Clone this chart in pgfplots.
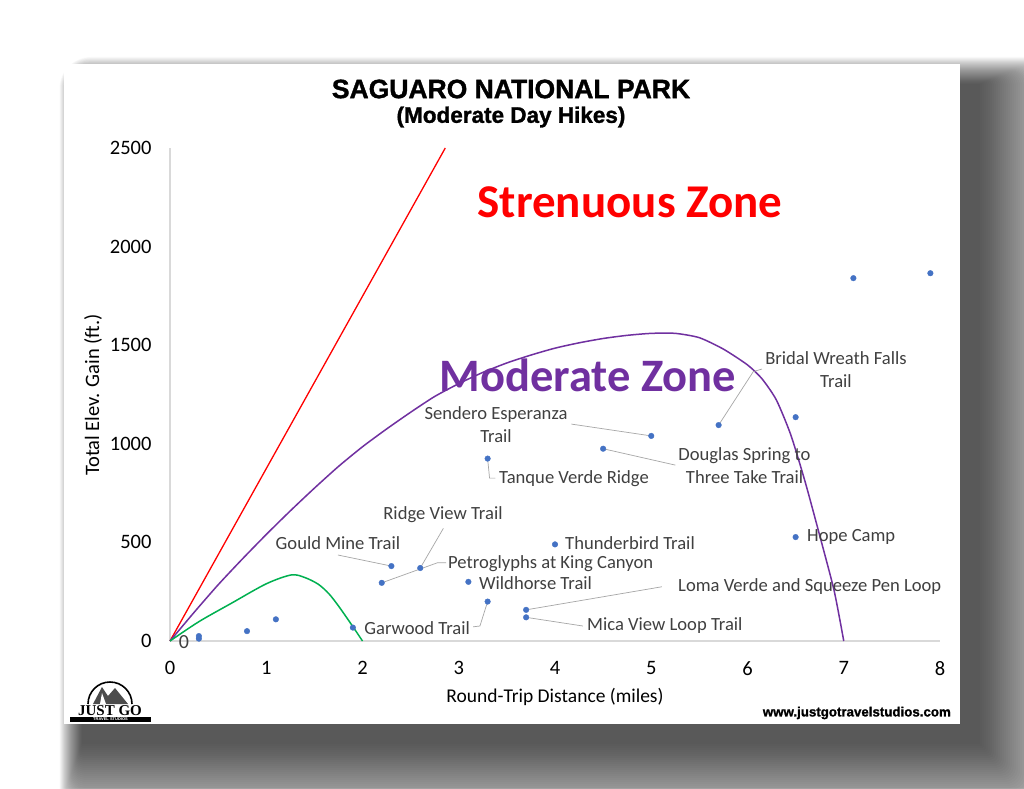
\documentclass[border=0pt]{standalone}
\usepackage{fontspec}
\setmainfont{Carlito}
\newfontfamily\titlefont{Liberation Sans}
\newfontfamily\titleheavy{Liberation Sans}[FakeBold=1.3]
\newfontfamily\serifbold{Liberation Serif}
\usepackage{pgfplots}
\pgfplotsset{compat=1.18}
\definecolor{dotblue}{HTML}{4472C4}
\definecolor{modpurple}{HTML}{7030A0}
\definecolor{easygreen}{HTML}{00B050}
\definecolor{labgray}{HTML}{404040}
\definecolor{axisgray}{HTML}{D9D9D9}
\definecolor{leadgray}{HTML}{A6A6A6}
\newcommand\lab{\fontsize{18.6}{23}\selectfont\color{labgray}}
\pgfplotstableread{
x y
0.3 25
0.3 12
0.8 50
1.1 110
1.9 68
2.2 295
2.3 380
2.6 370
3.1 300
3.3 200
3.3 925
3.7 158
3.7 120
4.0 490
4.5 975
5.0 1040
5.7 1095
6.5 1135
6.5 527
7.1 1840
7.9 1865
}\hikes
\begin{document}
\begin{tikzpicture}[x=1pt,y=1pt]
\useasboundingbox (0,0) rectangle (1024,788);
\fill[white] (0,0) rectangle (1024,788);
% soft shadow behind the panel
\foreach \i [evaluate=\i as \r using 0.35*\i] in {0,2,...,90} {
  \fill[black,opacity=0.02,rounded corners=\r pt] (82-0.25*\i, 44-\i) rectangle (980+\i, 704+0.3*\i);
}
\fill[white] (64,64) rectangle (960,724);

\begin{axis}[
  at={(170pt,147pt)}, anchor=south west,
  scale only axis, width=770pt, height=493pt,
  xmin=0, xmax=8, ymin=0, ymax=2500,
  axis x line=bottom, axis y line=left,
  axis line style={draw=axisgray, line width=1.3pt, -},
  xtick={0,1,...,8}, ytick={0,500,...,2500},
  major tick length=0pt,
  tick label style={font=\fontsize{20.5}{24}\selectfont, black},
  /pgf/number format/assume math mode=true,
  /pgf/number format/1000 sep={},
  yticklabel style={xshift=-15pt},
  xticklabel style={yshift=-17pt},
  clip=false,
]
\addplot[red, line width=1.3pt] coordinates {(0,0) (2.86,2500)};
\addplot[modpurple, line width=1.5pt, smooth, tension=0.4] coordinates {
(0,0) (0.25,145) (0.5,285) (0.75,415) (1,540) (1.25,660) (1.5,775) (1.75,885)
(2,985) (2.25,1075) (2.5,1160) (2.75,1240) (3,1305) (3.25,1362) (3.5,1410)
(3.75,1450) (4,1485) (4.25,1512) (4.5,1534) (4.75,1550) (5,1560) (5.25,1560)
(5.5,1538) (5.75,1480) (6.0,1400) (6.15,1330) (6.3,1222) (6.45,1045)
(6.6,805) (6.75,535) (6.9,255) (7.0,0)};
\addplot[easygreen, line width=1.5pt, smooth, tension=0.5] coordinates {
(0,0) (0.3,98) (0.64,192) (1.0,290) (1.26,335) (1.4,322) (1.54,288)
(1.65,240) (1.75,178) (1.89,80) (2.0,0)};
\addplot[only marks, mark=*, mark size=2.8pt, dotblue,
  mark options={draw=dotblue, fill=dotblue}] table[x=x, y=y] {\hikes};

% leader lines
\begin{scope}[leadgray, line width=0.7pt]
\draw (axis cs:1.745,436) -- (axis cs:2.3,380);
\draw (axis cs:2.84,571) -- (axis cs:2.6,370);
\draw (axis cs:2.87,397) -- (axis cs:2.78,397) -- (axis cs:2.2,295);
\draw (axis cs:3.15,72) -- (axis cs:3.22,76) -- (axis cs:3.3,200);
\draw (axis cs:5.11,275) -- (axis cs:3.7,158);
\draw (axis cs:4.29,76) -- (axis cs:3.7,120);
\draw (axis cs:3.3,925) -- (axis cs:3.32,826) -- (axis cs:3.38,826);
\draw (axis cs:4.17,1100) -- (axis cs:5.0,1040);
\draw (axis cs:4.5,975) -- (axis cs:5.25,892);
\draw (axis cs:5.7,1095) -- (axis cs:6.06,1366) -- (axis cs:6.15,1379);
\end{scope}

% labels
\node[inner sep=0pt] at (axis cs:1.745,497) {\lab Gould Mine Trail};
\node[inner sep=0pt] at (axis cs:2.836,639) {\lab Ridge View Trail};
\node[inner sep=0pt, anchor=west] at (axis cs:2.888,394) {\lab Petroglyphs at King Canyon};
\node[inner sep=0pt, anchor=west] at (axis cs:3.21,296) {\lab Wildhorse Trail};
\node[inner sep=0pt, anchor=east] at (axis cs:3.117,66) {\lab Garwood Trail};
\node[inner sep=0pt, anchor=west] at (axis cs:4.104,497) {\lab Thunderbird Trail};
\node[inner sep=0pt, anchor=west] at (axis cs:5.278,274) {\lab Loma Verde and Squeeze Pen Loop};
\node[inner sep=0pt, anchor=west] at (axis cs:4.332,76) {\lab Mica View Loop Trail};
\node[inner sep=0pt, anchor=west] at (axis cs:3.418,821) {\lab Tanque Verde Ridge};
\node[inner sep=0pt, align=center, font=\lab] at (axis cs:3.387,1098) {Sendero Esperanza\\Trail};
\node[inner sep=0pt, align=center, font=\lab] at (axis cs:5.969,890) {Douglas Spring to\\Three Take Trail};
\node[inner sep=0pt, align=center, font=\lab] at (axis cs:6.919,1377) {Bridal Wreath Falls\\Trail};
\node[inner sep=0pt, anchor=west] at (axis cs:6.618,527) {\lab Hope Camp};
\node[inner sep=0pt] at (axis cs:0.145,-5) {\fontsize{20}{24}\selectfont\color{labgray}0};

\node[inner sep=0pt, red] at (axis cs:4.779,2226) {\fontsize{47}{56}\selectfont\bfseries Strenuous Zone};
\node[inner sep=0pt, modpurple] at (axis cs:4.343,1349) {\fontsize{46.5}{56}\selectfont\bfseries Moderate Zone};
\end{axis}

% titles and axis labels
\node[inner sep=0pt] at (511,699) {\titleheavy\bfseries\fontsize{26.5}{31}\selectfont SAGUARO NATIONAL PARK};
\node[inner sep=0pt] at (511,671) {\titleheavy\bfseries\fontsize{22.5}{27}\selectfont (Moderate Day Hikes)};
\node[inner sep=0pt] at (555,91) {\fontsize{19.5}{23}\selectfont Round-Trip Distance (miles)};
\node[inner sep=0pt, rotate=90] at (93,393) {\fontsize{20.5}{24}\selectfont Total Elev. Gain (ft.)};
\node[inner sep=0pt, anchor=east] at (951,75) {\titleheavy\bfseries\fontsize{13.3}{16}\selectfont www.justgotravelstudios.com};

% logo
\begin{scope}
\draw[black, line width=1.6pt] (88,84) arc (180:0:22);
\fill[black!70] (93,84) -- (102,101) -- (108,92) -- (115,100) -- (128,84) -- cycle;
\fill[white] (100,84) -- (102,95) -- (106,84) -- cycle;
\node[inner sep=0pt] at (110,77) {\serifbold\bfseries\fontsize{15}{18}\selectfont JUST GO};
\fill[black] (70,66.5) rectangle (151,71);
\node[inner sep=0pt, white] at (110.5,68.8) {\titlefont\bfseries\fontsize{4}{5}\selectfont TRAVEL STUDIOS};
\end{scope}
\end{tikzpicture}
\end{document}
